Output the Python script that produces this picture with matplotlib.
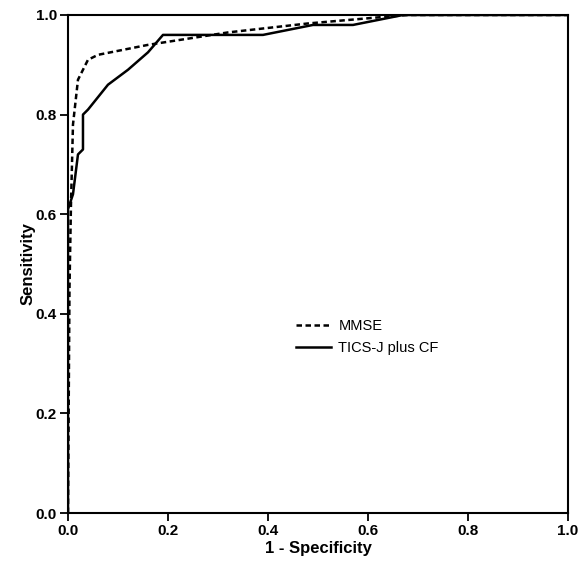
import matplotlib
matplotlib.use("Agg")
import matplotlib.pyplot as plt

plt.rcParams['font.family'] = ['Liberation Sans', 'DejaVu Sans']

# ROC-Kurven
mmse_fpr = [0.0, 0.003, 0.006, 0.01, 0.02, 0.04, 0.06, 0.16, 0.32, 0.48, 0.63, 0.68, 1.0]
mmse_tpr = [0.0, 0.45, 0.62, 0.78, 0.87, 0.91, 0.92, 0.94, 0.965, 0.983, 0.996, 1.0, 1.0]

tics_fpr = [0.0, 0.0, 0.01, 0.02, 0.03, 0.03, 0.04, 0.08, 0.12, 0.16, 0.19, 0.39, 0.49, 0.57, 0.67, 1.0]
tics_tpr = [0.0, 0.61, 0.64, 0.72, 0.73, 0.80, 0.81, 0.86, 0.89, 0.925, 0.96, 0.96, 0.98, 0.98, 1.0, 1.0]

ticks = [0.0, 0.2, 0.4, 0.6, 0.8, 1.0]

fig = plt.figure(figsize=(5.84, 5.72), dpi=100)
ax = fig.add_axes([0.1164, 0.1031, 0.8562, 0.8707])

ax.plot(mmse_fpr, mmse_tpr, color="black", lw=1.8, ls=(0, (2.2, 1.4)), label="MMSE")
ax.plot(tics_fpr, tics_tpr, color="black", lw=1.8, label="TICS-J plus CF")

ax.set_xlim(0, 1)
ax.set_ylim(0, 1)
ax.set_xticks(ticks)
ax.set_yticks(ticks)
ax.set_xticklabels([f"{t:.1f}" for t in ticks], fontweight="bold", fontsize=11)
ax.set_yticklabels([f"{t:.1f}" for t in ticks], fontweight="bold", fontsize=11)
ax.tick_params(direction="out", length=6, width=1.3, pad=2)
for s in ax.spines.values():
    s.set_linewidth(1.5)

ax.set_xlabel("1 - Specificity", fontweight="bold", fontsize=12, labelpad=2)
ax.set_ylabel("Sensitivity", fontweight="bold", fontsize=12, labelpad=0)

ax.legend(loc="upper left", bbox_to_anchor=(0.43, 0.415), frameon=False,
          fontsize=10.5, handlelength=2.4, handletextpad=0.5, labelspacing=0.5)

plt.savefig("out.png", dpi=100)
